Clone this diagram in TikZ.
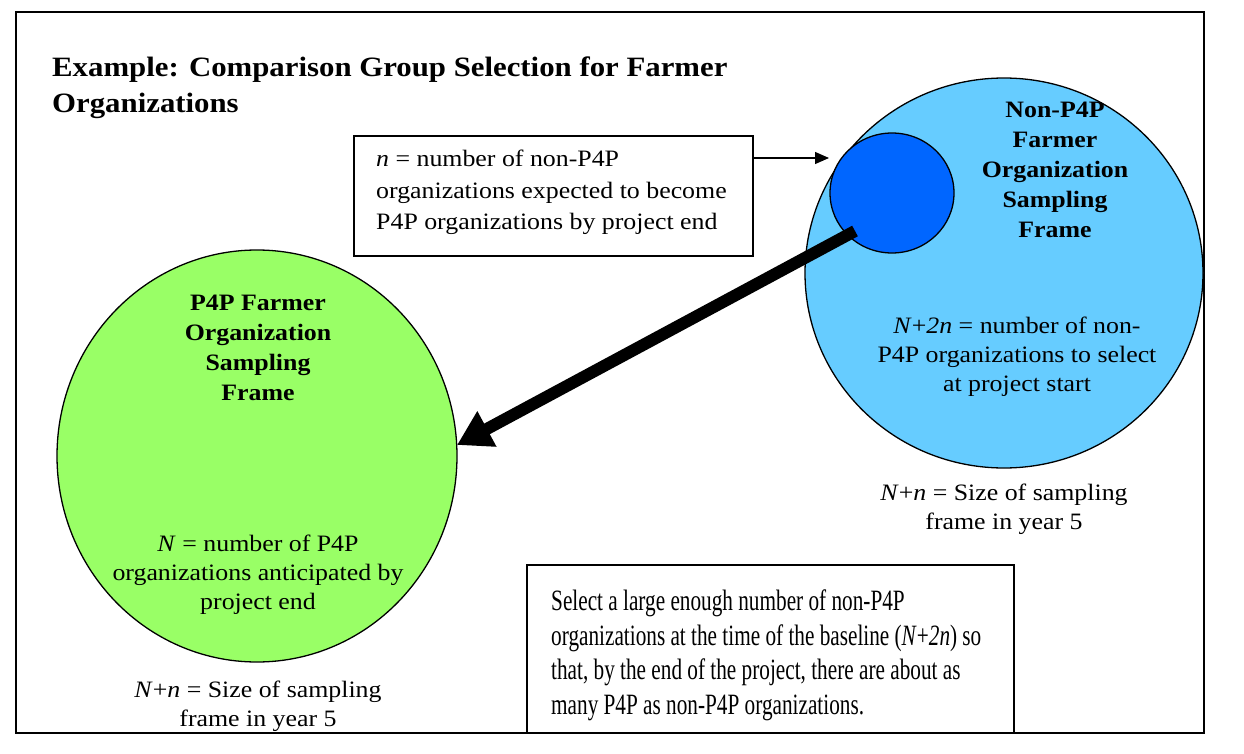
\documentclass[tikz,border=0pt]{standalone}
\usepackage{fontspec}
\setmainfont[FakeStretch=1.1]{Liberation Serif}
\newfontfamily\condfont[FakeStretch=0.72]{Liberation Serif}
\usetikzlibrary{arrows.meta}
\definecolor{lightblue}{HTML}{66CCFF}
\definecolor{darkblue}{HTML}{0066FF}
\definecolor{lightgreen}{HTML}{99FF66}
\begin{document}
\begin{tikzpicture}[x=1bp,y=-1bp,
  frame/.style={draw=black,line width=2bp},
  circ/.style={draw=black,line width=1.3bp},
  txtbox/.style={draw=black,line width=1.3bp,inner sep=0pt},
  bodytxt/.style={font=\fontsize{23.5bp}{29bp}\selectfont,align=center,inner sep=0pt},
  headtxt/.style={font=\fontsize{23.5bp}{30bp}\selectfont\bfseries,align=center,inner sep=0pt},
]
\useasboundingbox (0,0) rectangle (1244,754);
\draw[frame] (16,12) rectangle (1204,733);

% title
\node[anchor=west,font=\fontsize{28bp}{36bp}\selectfont\bfseries,align=left,inner sep=0pt] (title) at (52,88)
  {Example: Comparison Group Selection for Farmer\\Organizations};

% circles
\draw[circ,fill=lightblue] (1004,273) ellipse [x radius=199, y radius=195];
\draw[circ,fill=darkblue] (892,193) ellipse [x radius=62, y radius=60];
\draw[circ,fill=lightgreen] (257,456) ellipse [x radius=200, y radius=206];
\coordinate (smallW) at (829,158);
\coordinate (bigstart) at (855,231);
\coordinate (greenE) at (457,445);

% n box
\draw[txtbox] (354,136) rectangle (753,256);
\node[anchor=north west,font=\fontsize{23.5bp}{31.5bp}\selectfont,align=left,inner sep=0pt] (nbox) at (376,150)
  {\textit{n} = number of non-P4P\\organizations expected to become\\P4P organizations by project end};
\coordinate (nboxE) at (753,158);
\draw[line width=1.3bp,-{Triangle[length=14bp,width=12bp]}] (nboxE) -- (smallW);

% non-P4P texts
\node[headtxt] (nonhead) at (1055,170) {Non-P4P\\Farmer\\Organization\\Sampling\\Frame};
\node[bodytxt] (nontxt) at (1017,357) {\textit{N}+\textit{2n} = number of non-\\P4P organizations to select\\at project start};
\node[bodytxt] (nonsize) at (1004,509) {\textit{N}+\textit{n} = Size of sampling\\frame in year 5};

% P4P texts
\node[headtxt] (phead) at (258,348) {P4P Farmer\\Organization\\Sampling\\Frame};
\node[bodytxt] (ptxt) at (258,575) {\textit{N} = number of P4P\\organizations anticipated by\\project end};
\node[bodytxt] (psize) at (258,706) {\textit{N}+\textit{n} = Size of sampling\\frame in year 5};

% big arrow
\draw[line width=12bp,-{Triangle[length=34bp,width=38bp]}] (bigstart) -- (greenE);

% bottom box
\draw[txtbox] (527,565) rectangle (1014,733);
\node[anchor=north west,font=\condfont\fontsize{29.5bp}{34.5bp}\selectfont,align=left,inner sep=0pt] (sel) at (551,590)
  {Select a large enough number of non-P4P\\organizations at the time of the baseline (\textit{N}+\textit{2n}) so\\that, by the end of the project, there are about as\\many P4P as non-P4P organizations.};
\end{tikzpicture}
\end{document}
